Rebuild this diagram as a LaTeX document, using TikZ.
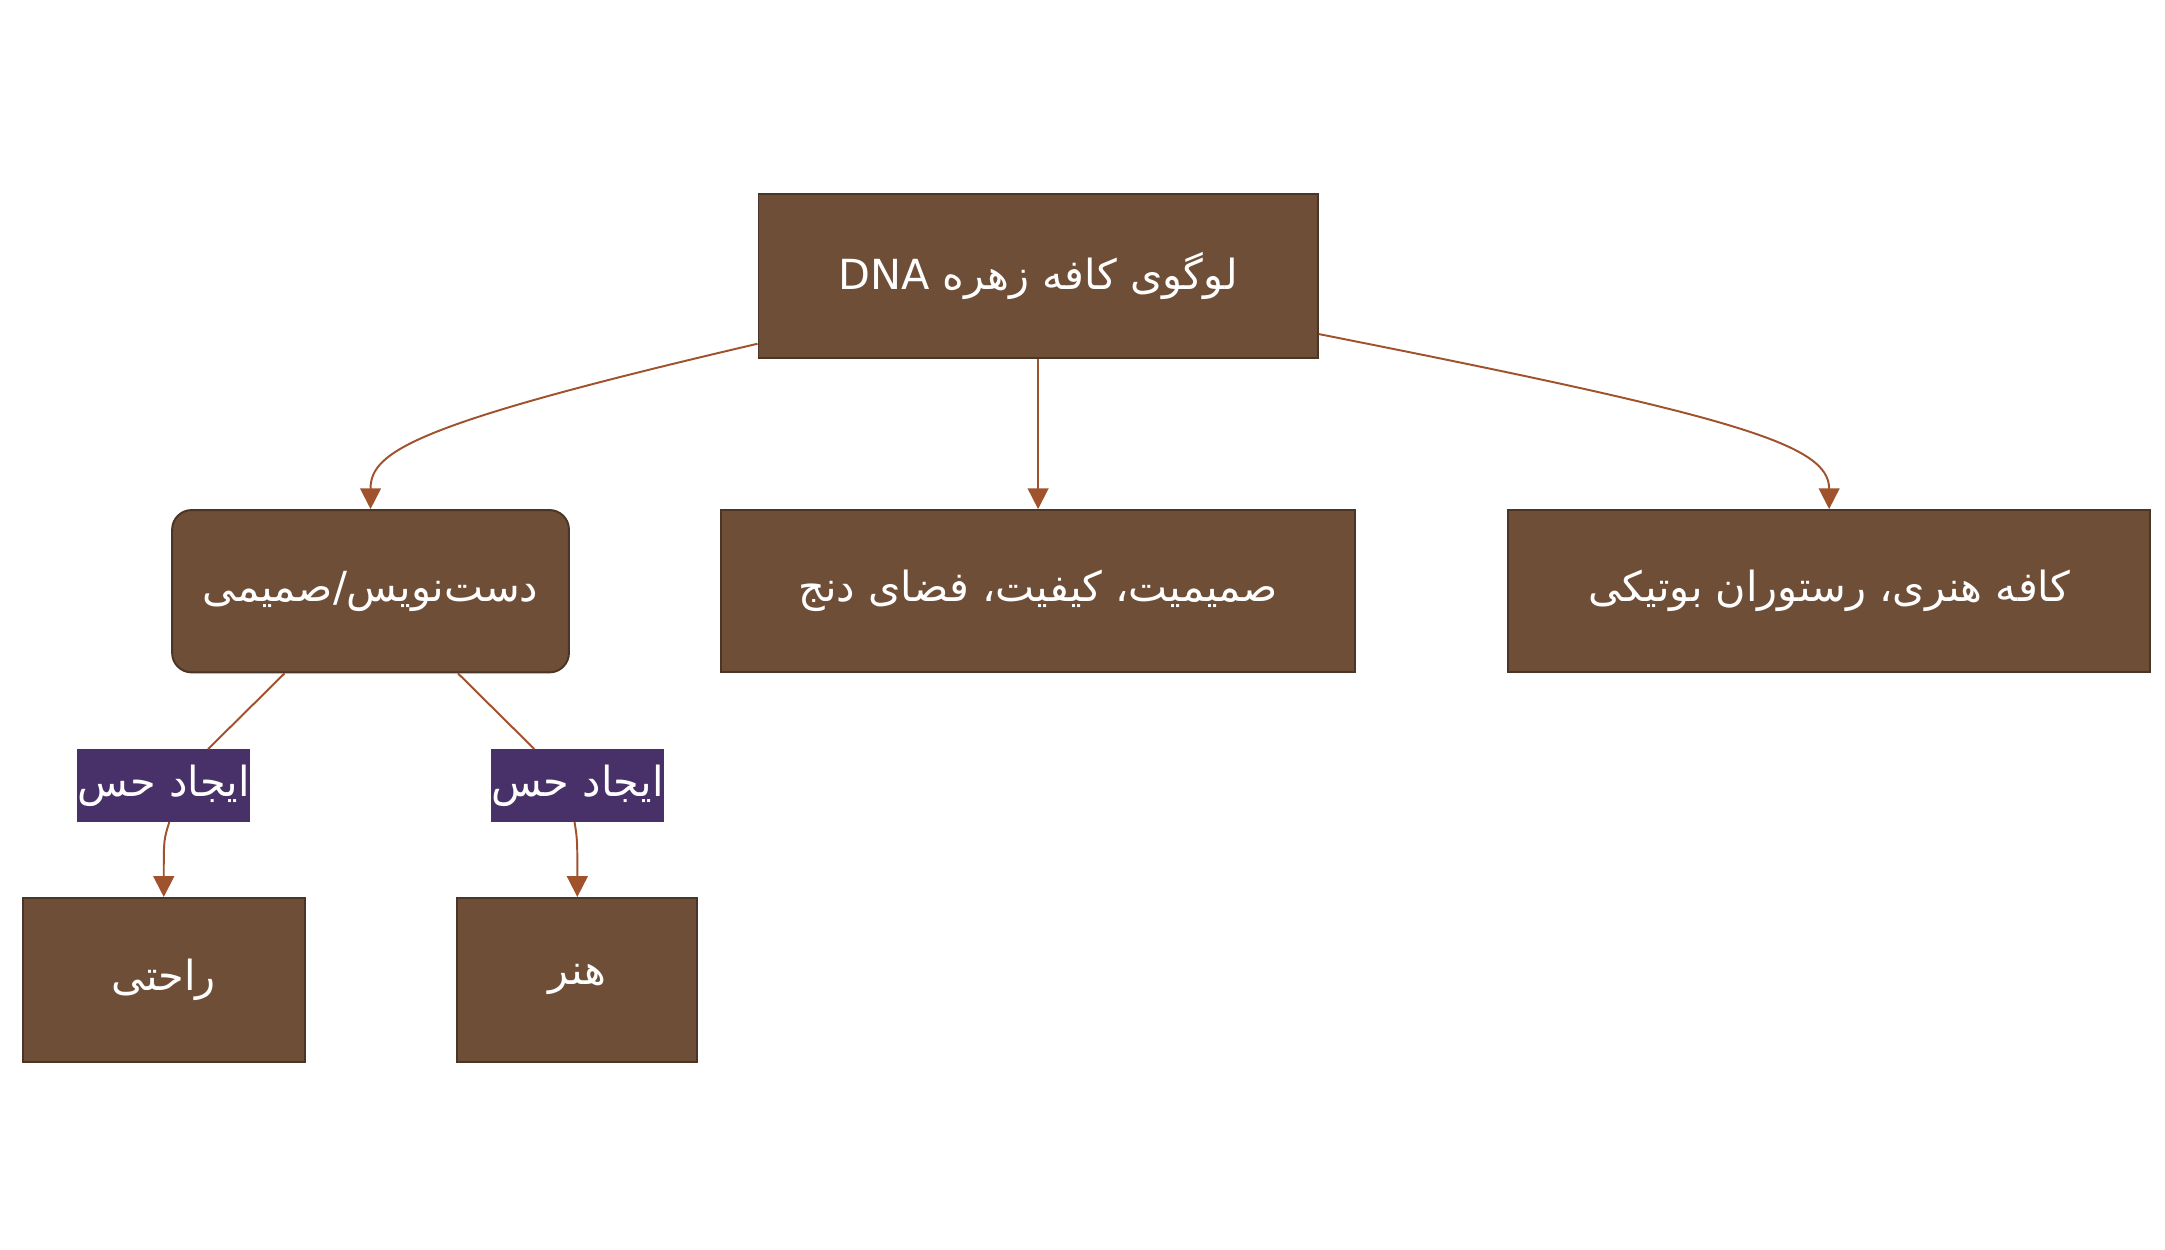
\documentclass[tikz,border=0pt]{standalone}
\usepackage{fontspec}
\newfontfamily\arabicfont[Script=Arabic]{DejaVu Sans}
\TeXXeTstate=1
\usetikzlibrary{arrows.meta}
\definecolor{boxfill}{HTML}{6F4E37}
\definecolor{boxline}{HTML}{4A3526}
\definecolor{edgecol}{HTML}{A0522D}
\definecolor{tagfill}{HTML}{483068}
\tikzset{leaf/.style={rectangle,draw=boxline,fill=boxfill,text=white,line width=0.8pt,
font=\arabicfont\fontsize{17}{20}\selectfont}}
\tikzset{tag/.style={rectangle,fill=tagfill,text=white,inner sep=0pt,
minimum height=1.04cm, minimum width=2.22cm,font=\arabicfont\fontsize{17}{20}\selectfont}}
\tikzset{edge/.style={draw=edgecol,line width=0.8pt,-{Triangle[length=3mm,width=3mm]}}}
\tikzset{edgeplain/.style={draw=edgecol,line width=0.8pt}}

\begin{document}
\begin{tikzpicture}[x=0.02cm,y=-0.02cm]
    \useasboundingbox (0,0) rectangle (1560,900);

    \node[leaf,minimum width=8.06cm,minimum height=2.36cm] (logo) at (748,199) {\beginR لوگوی کافه زهره \beginL DNA\endL\endR};
    \node[leaf,rounded corners=8pt,minimum width=5.72cm,minimum height=2.34cm] (hand) at (267,426) {\beginR دست‌نویس/صمیمی\endR};
    \node[leaf,minimum width=9.14cm,minimum height=2.34cm] (mood) at (748,426) {\beginR صمیمیت، کیفیت، فضای دنج\endR};
    \node[leaf,minimum width=9.26cm,minimum height=2.34cm] (venue) at (1318,426) {\beginR کافه هنری، رستوران بوتیکی\endR};
    \node[leaf,minimum width=4.06cm,minimum height=2.36cm] (comfort) at (118,706) {\beginR راحتی\endR};
    \node[leaf,minimum width=3.46cm,minimum height=2.36cm] (art) at (416,706) {\beginR هنر\endR};

    \node[tag] (tagA) at (118,566) {\beginR ایجاد حس\endR};
    \node[tag] (tagB) at (416,566) {\beginR ایجاد حس\endR};

    \draw[edge] ([yshift=0.22cm]logo.south west) .. controls (300,305) and (267,325) .. (hand.north);
    \draw[edge] (logo) -- (mood);
    \draw[edge] ([yshift=0.36cm]logo.south east) .. controls (1250,300) and (1318,320) .. (venue.north);

    \draw[edgeplain] ([xshift=-1.24cm]hand.south) .. controls (180,510) .. ([xshift=0.64cm]tagA.north);
    \draw[edge] ([xshift=0.08cm]tagA.south) .. controls (118,605) .. (comfort.north);
    \draw[edgeplain] ([xshift=1.26cm]hand.south) .. controls (355,510) .. ([xshift=-0.62cm]tagB.north);
    \draw[edge] ([xshift=-0.04cm]tagB.south) .. controls (416,605) .. (art.north);

\end{tikzpicture}
\end{document}
